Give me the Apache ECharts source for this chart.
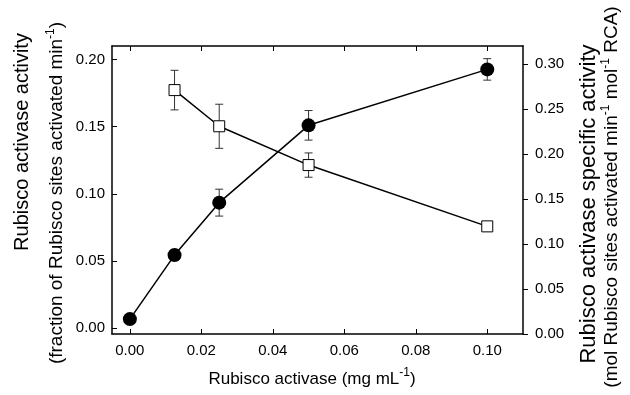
<!DOCTYPE html>
<html>
<head>
<meta charset="utf-8">
<script src="https://cdn.jsdelivr.net/npm/echarts@6/dist/echarts.min.js"></script>
<style>html,body{margin:0;padding:0;background:#fff}#c{width:630px;height:395px}</style>
</head>
<body>
<div id="c"></div>
<script>
// ---- data ----
const xVals = [0, 0.0125, 0.025, 0.05, 0.1];
const activity = [0.0069, 0.0545, 0.0935, 0.151, 0.1926];
const activityErr = [0, 0.004, 0.010, 0.011, 0.008];
const sxVals = [0.0125, 0.025, 0.05, 0.1];
const specific = [0.271, 0.2308, 0.1877, 0.1196];
const specificErr = [0.022, 0.0245, 0.0135, 0];
const xTicks = [0, 0.02, 0.04, 0.06, 0.08, 0.10];
const leftTicks = [0, 0.05, 0.10, 0.15, 0.20];
const rightTicks = [0, 0.05, 0.10, 0.15, 0.20, 0.25, 0.30];

const FONT = 'Liberation Sans, Arial, sans-serif';
const chart = echarts.init(document.getElementById('c'));

function errData(xs, ys, es) {
  return xs.map((x, i) => [x, ys[i] - es[i], ys[i] + es[i]]);
}
function errRender(params, api) {
  const x = api.value(0);
  const lo = api.coord([x, api.value(1)]);
  const hi = api.coord([x, api.value(2)]);
  const w = 4;
  const st = { stroke: '#333', lineWidth: 1 };
  return {
    type: 'group',
    children: [
      { type: 'line', shape: { x1: lo[0], y1: lo[1], x2: hi[0], y2: hi[1] }, style: st },
      { type: 'line', shape: { x1: lo[0] - w, y1: lo[1], x2: lo[0] + w, y2: lo[1] }, style: st },
      { type: 'line', shape: { x1: hi[0] - w, y1: hi[1], x2: hi[0] + w, y2: hi[1] }, style: st }
    ]
  };
}
const fmt = v => v.toFixed(2);
const axisLine = { show: true, onZero: false, lineStyle: { color: '#000', width: 1.5 } };
const supStyle = { fontSize: 12, fontFamily: FONT, fill: '#000', verticalAlign: 'top', padding: [0, 0, 12, 0] };

const option = {
  animation: false,
  grid: { left: 112, right: 107, top: 46, bottom: 61, containLabel: false },
  xAxis: [
    {
      type: 'value', min: -0.005, max: 0.11, position: 'bottom',
      axisLine: axisLine, splitLine: { show: false },
      axisTick: { inside: true, length: 5, customValues: xTicks, lineStyle: { color: '#000', width: 1 } },
      axisLabel: { customValues: xTicks, formatter: fmt, color: '#000', fontSize: 15, fontFamily: FONT, margin: 9 }
    },
    {
      type: 'value', min: -0.005, max: 0.11, position: 'top',
      axisLine: axisLine, splitLine: { show: false },
      axisTick: { inside: true, length: 5, customValues: xTicks, lineStyle: { color: '#000', width: 1 } },
      axisLabel: { show: false }
    }
  ],
  yAxis: [
    {
      type: 'value', min: -0.0042, max: 0.21, position: 'left',
      axisLine: axisLine, splitLine: { show: false },
      axisTick: { inside: true, length: 5, customValues: leftTicks, lineStyle: { color: '#000', width: 1 } },
      axisLabel: { customValues: leftTicks, formatter: fmt, color: '#000', fontSize: 15, fontFamily: FONT, margin: 7 }
    },
    {
      type: 'value', min: 0, max: 0.32, position: 'right',
      axisLine: axisLine, splitLine: { show: false },
      axisTick: { inside: false, length: 5, customValues: rightTicks, lineStyle: { color: '#000', width: 1 } },
      axisLabel: { customValues: rightTicks, formatter: fmt, color: '#000', fontSize: 15, fontFamily: FONT, margin: 12 }
    }
  ],
  series: [
    {
      type: 'custom', xAxisIndex: 0, yAxisIndex: 0, z: 1,
      renderItem: errRender, data: errData(xVals, activity, activityErr)
    },
    {
      type: 'custom', xAxisIndex: 0, yAxisIndex: 1, z: 1,
      renderItem: errRender, data: errData(sxVals, specific, specificErr)
    },
    {
      type: 'line', xAxisIndex: 0, yAxisIndex: 1, z: 3,
      data: sxVals.map((x, i) => [x, specific[i]]),
      symbol: 'rect', symbolSize: 11,
      itemStyle: { color: '#fff', borderColor: '#000', borderWidth: 1 },
      lineStyle: { color: '#000', width: 1.5 }
    },
    {
      type: 'line', xAxisIndex: 0, yAxisIndex: 0, z: 4,
      data: xVals.map((x, i) => [x, activity[i]]),
      symbol: 'circle', symbolSize: 14,
      itemStyle: { color: '#000' },
      lineStyle: { color: '#000', width: 1.5 }
    }
  ],
  graphic: [
    {
      type: 'text', x: 312, y: 379,
      style: {
        text: 'Rubisco activase (mg mL{sup|-1})', fill: '#000', font: '17px ' + FONT,
        align: 'center', verticalAlign: 'middle', rich: { sup: supStyle }
      }
    },
    {
      type: 'text', x: 22, y: 142, rotation: Math.PI / 2,
      style: { text: 'Rubisco activase activity', fill: '#000', font: '20px ' + FONT, align: 'center', verticalAlign: 'middle' }
    },
    {
      type: 'text', x: 57, y: 193, rotation: Math.PI / 2,
      style: {
        text: '(fraction of Rubisco sites activated min{sup|-1})', fill: '#000', font: '19px ' + FONT,
        align: 'center', verticalAlign: 'middle', rich: { sup: supStyle }
      }
    },
    {
      type: 'text', x: 589, y: 204, rotation: Math.PI / 2,
      style: { text: 'Rubisco activase specific activity', fill: '#000', font: '22px ' + FONT, align: 'center', verticalAlign: 'middle' }
    },
    {
      type: 'text', x: 612, y: 197, rotation: Math.PI / 2,
      style: {
        text: '(mol Rubisco sites activated min{sup|-1} mol{sup|-1} RCA)', fill: '#000', font: '19px ' + FONT,
        align: 'center', verticalAlign: 'middle', rich: { sup: supStyle }
      }
    }
  ]
};
chart.setOption(option);
</script>
</body>
</html>
